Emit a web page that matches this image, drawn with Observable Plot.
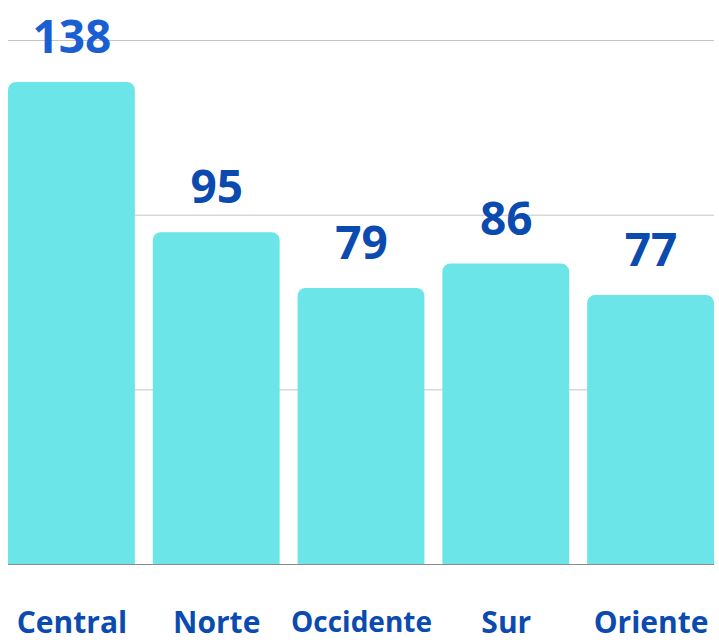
<!DOCTYPE html>
<html>
<head>
<meta charset="utf-8">
<script src="https://cdn.jsdelivr.net/npm/d3@7"></script>
<script src="https://cdn.jsdelivr.net/npm/@observablehq/plot@0.6"></script>
<style>
  html, body { margin: 0; padding: 0; background: #ffffff; }
  #chart svg { display: block; }
</style>
</head>
<body>
<div id="chart"></div>
<script>
const regions = ["Central", "Norte", "Occidente", "Sur", "Oriente"];
const counts = [138, 95, 79, 86, 77];
const gridTicks = [50, 100, 150];

const data = regions.map((r, i) => ({region: r, value: counts[i]}));

const font = "'Open Sans', 'Noto Sans', sans-serif";

const chart = Plot.plot({
  width: 719,
  height: 642,
  marginTop: 40,
  marginBottom: 78,
  marginLeft: 8,
  marginRight: 5,
  style: {fontFamily: font, background: "transparent"},
  x: {domain: regions, paddingInner: 0.124, paddingOuter: 0, round: false, label: null, axis: null},
  y: {domain: [0, 150], axis: null},
  marks: [
    Plot.ruleY(gridTicks, {stroke: "#c4c4c4", strokeWidth: 1}),
    Plot.barY(data, {x: "region", y: "value", fill: "#6be5e8", ry1: 8}),
    Plot.ruleY([0], {stroke: "#8a8a8a", strokeWidth: 1.2}),
    Plot.text(data, {
      x: "region", y: "value", text: d => String(d.value),
      dy: -44, fontSize: 46, fontWeight: 700,
      fill: d => d.region === "Central" ? "#1a5fd2" : "#0b4bb0"
    }),
    Plot.text(data, {
      x: "region", y: 0, text: "region",
      dy: 59, fontWeight: 700,
      fontSize: d => d.region === "Occidente" ? 28 : 30,
      fill: "#0b4bb0"
    })
  ]
});
document.getElementById("chart").appendChild(chart);
</script>
</body>
</html>
